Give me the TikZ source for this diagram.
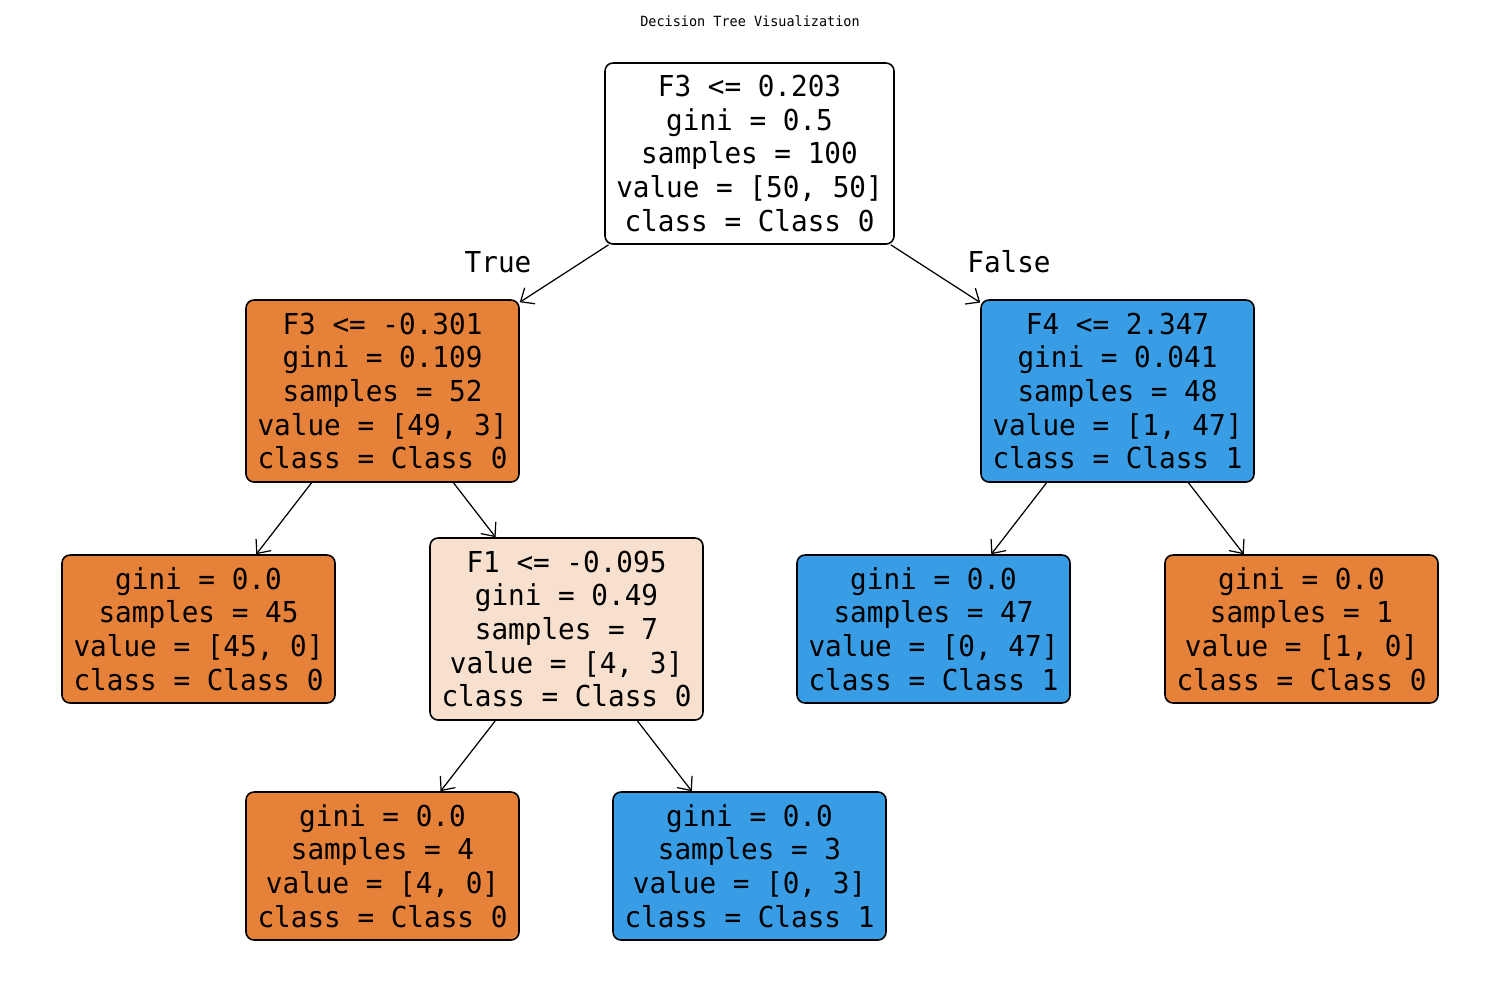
\documentclass[tikz,border=0pt]{standalone}
\usepackage{fontspec}
\usetikzlibrary{arrows.meta}
\newfontfamily\treefont[FakeStretch=0.96]{DejaVu Sans Mono}
\definecolor{cls0}{HTML}{E58139}
\definecolor{cls1}{HTML}{399DE5}
\definecolor{mixed}{HTML}{F8E0CE}
\tikzset{
  treebox/.style={draw=black, line width=0.45pt, rounded corners=0.8mm, inner sep=0pt,
    align=center, minimum width=27.3mm, minimum height=18.2mm,
    font={\treefont\fontsize{8.2}{9.6}\selectfont}},
  leafbox/.style={treebox, minimum height=14.8mm},
  edgelab/.style={font={\treefont\fontsize{8.2}{9.6}\selectfont}, inner sep=0pt},
  conn/.style={line width=0.35pt, -{Straight Barb[length=1.1mm,width=1.9mm,line width=0.35pt]}}
}
\begin{document}
\begin{tikzpicture}[x=0.1mm,y=-0.1mm]
\useasboundingbox[fill=white] (0,0) rectangle (1500,1000);
\node[font={\treefont\fontsize{4.0}{4.8}\selectfont}] (title) at (750,21) {Decision Tree Visualization};
\node[treebox, fill=white, minimum width=28.9mm, minimum height=18.1mm] (root) at (749.5,153.5)
  {F3 <= 0.203\\gini = 0.5\\samples = 100\\value = [50, 50]\\class = Class 0};
\node[treebox, fill=cls0] (l1) at (382.5,391)
  {F3 <= -0.301\\gini = 0.109\\samples = 52\\value = [49, 3]\\class = Class 0};
\node[treebox, fill=cls1] (r1) at (1117.5,391)
  {F4 <= 2.347\\gini = 0.041\\samples = 48\\value = [1, 47]\\class = Class 1};
\node[leafbox, fill=cls0] (ll) at (198.5,629)
  {gini = 0.0\\samples = 45\\value = [45, 0]\\class = Class 0};
\node[treebox, fill=mixed] (lr) at (566.5,629)
  {F1 <= -0.095\\gini = 0.49\\samples = 7\\value = [4, 3]\\class = Class 0};
\node[leafbox, fill=cls1] (rl) at (933.5,629)
  {gini = 0.0\\samples = 47\\value = [0, 47]\\class = Class 1};
\node[leafbox, fill=cls0] (rr) at (1301.5,629)
  {gini = 0.0\\samples = 1\\value = [1, 0]\\class = Class 0};
\node[leafbox, fill=cls0] (lrl) at (382.5,866)
  {gini = 0.0\\samples = 4\\value = [4, 0]\\class = Class 0};
\node[leafbox, fill=cls1] (lrr) at (749.5,866)
  {gini = 0.0\\samples = 3\\value = [0, 3]\\class = Class 1};
\draw[conn] (root) -- (l1);
\draw[conn] (root) -- (r1);
\draw[conn] (l1) -- (ll);
\draw[conn] (l1) -- (lr);
\draw[conn] (r1) -- (rl);
\draw[conn] (r1) -- (rr);
\draw[conn] (lr) -- (lrl);
\draw[conn] (lr) -- (lrr);
\node[edgelab] (truelab) at (498,262) {True};
\node[edgelab] (falselab) at (1009,262) {False};
\end{tikzpicture}
\end{document}
